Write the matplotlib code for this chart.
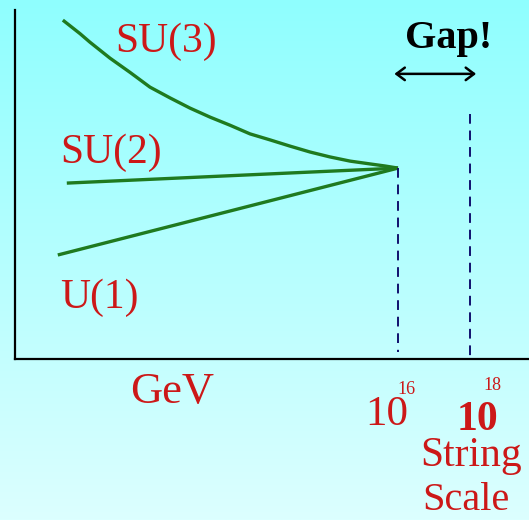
import numpy as np
import matplotlib
matplotlib.use("Agg")
import matplotlib.pyplot as plt
from matplotlib.colors import LinearSegmentedColormap

# Energy scale in log10(E / GeV), coupling strength in arbitrary units
su3_logE = [6.69, 7.17, 7.44, 8.0, 8.56, 9.11, 9.67, 10.22, 10.78, 11.33,
            11.89, 12.44, 13.0, 13.56, 14.11, 14.67, 15.22, 15.64, 16.0]
su3_coupling = [97.1, 93.2, 90.8, 86.2, 82.1, 77.9, 74.8, 71.9, 69.3, 67.0,
                64.5, 62.8, 61.0, 59.3, 57.9, 56.7, 55.9, 55.3, 54.7]
su2_logE = [6.8, 16.0]
su2_coupling = [50.4, 54.7]
u1_logE = [6.55, 16.0]
u1_coupling = [29.8, 54.7]

gut_logE = 16.0
string_logE = 18.0
gut_coupling = 54.7

group_labels = ["SU(3)", "SU(2)", "U(1)"]

W, H = 529, 520
fig = plt.figure(figsize=(W / 100, H / 100), dpi=100)

# Vertical cyan gradient background
bg = fig.add_axes([0, 0, 1, 1], zorder=0)
cmap = LinearSegmentedColormap.from_list("bgcyan", ["#8ffefe", "#dcffff"])
grad = np.linspace(0, 1, 256).reshape(-1, 1)
bg.imshow(grad, aspect="auto", cmap=cmap, extent=[0, 1, 0, 1], origin="upper")
bg.set_axis_off()

ax = fig.add_axes([15 / W, 1 - 359 / H, 514 / W, 349 / H], zorder=1)
ax.patch.set_alpha(0)
ax.set_xlim(16 - 383 / 36, 16 + 131 / 36)
ax.set_ylim(0, 100)
for side in ("top", "right"):
    ax.spines[side].set_visible(False)
for side in ("left", "bottom"):
    ax.spines[side].set_linewidth(1.6)
    ax.spines[side].set_color("black")
ax.set_xticks([])
ax.set_yticks([])

green = "#1f7a1f"
ax.plot(su3_logE, su3_coupling, color=green, lw=2.4, solid_capstyle="butt",
        solid_joinstyle="round")
ax.plot(su2_logE, su2_coupling, color=green, lw=2.4, solid_capstyle="butt")
ax.plot(u1_logE, u1_coupling, color=green, lw=2.4, solid_capstyle="butt")

navy = "#10106e"
ax.plot([gut_logE, gut_logE], [gut_coupling, 2.0], color=navy, lw=1.4,
        dashes=(5, 3.5))
ax.plot([string_logE, string_logE], [70.2, 0.0], color=navy, lw=1.4,
        dashes=(5, 3.5))

# Gap arrow between the two scales
ax.annotate("", xy=(18.17, 81.7), xytext=(15.9, 81.7),
            arrowprops=dict(arrowstyle="<->,head_length=0.6,head_width=0.45",
                            color="black", lw=1.8, shrinkA=0, shrinkB=0))

red = "#cc1818"
serif = "Liberation Serif"


def ftext(px, py, s, size, color=red, weight="normal"):
    fig.text(px / W, 1 - py / H, s, fontsize=size, color=color,
             fontfamily=serif, fontweight=weight, va="baseline", ha="left",
             zorder=5)


ftext(115, 52, group_labels[0], 30)
ftext(60, 163, group_labels[1], 30)
ftext(60, 308, group_labels[2], 30)
ftext(405, 48, "Gap!", 29, color="black", weight="bold")
ftext(130, 403, "GeV", 32)
ftext(365, 425, "10", 31)
ftext(397, 394, "16", 13)
ftext(457, 430, "10", 30, weight="bold")
ftext(483, 390, "18", 13)
ftext(420, 466, "String", 30)
ftext(422, 510, "Scale", 29)

fig.savefig("out.png", dpi=100)
